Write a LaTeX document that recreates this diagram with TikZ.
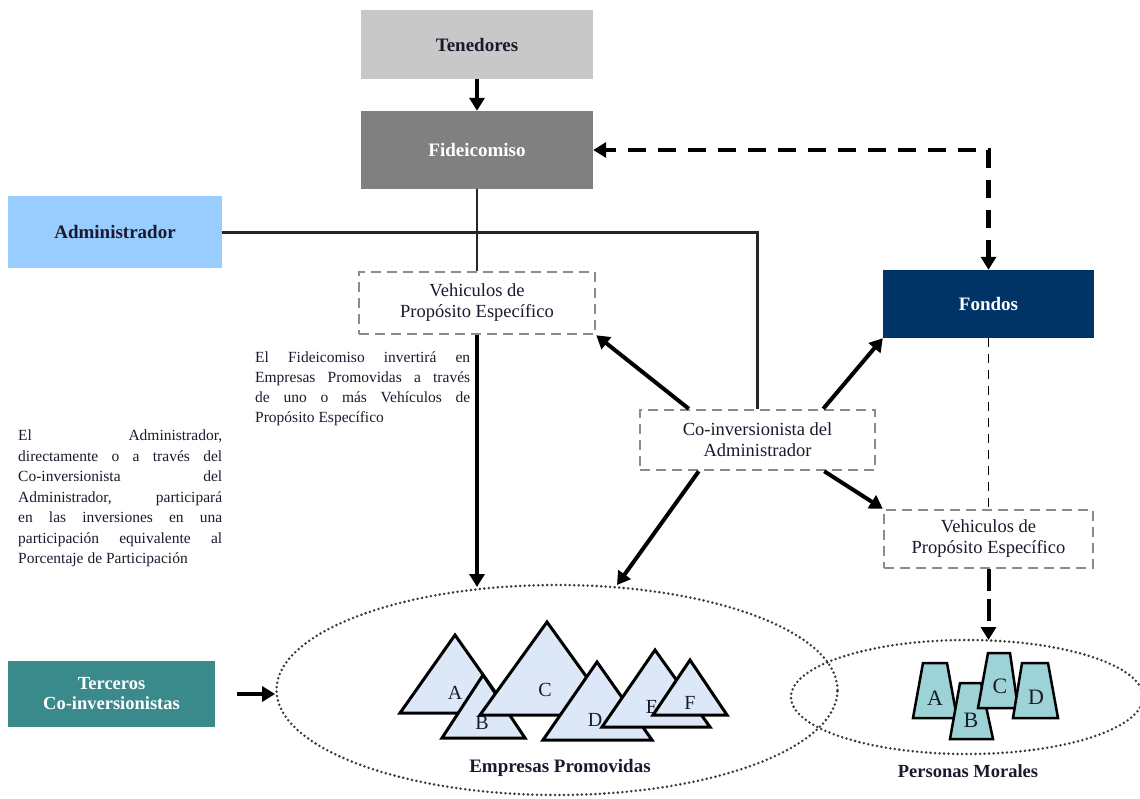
\documentclass[tikz,border=0pt]{standalone}
\usepackage{fontspec}
\setmainfont{Liberation Serif}
\usetikzlibrary{arrows.meta,calc,shapes.geometric}
\definecolor{tenc}{HTML}{C8C8C8}
\definecolor{fidc}{HTML}{808080}
\definecolor{admc}{HTML}{99CCFF}
\definecolor{fonc}{HTML}{003366}
\definecolor{terc}{HTML}{3A8A8C}
\definecolor{tric}{HTML}{DCE8F8}
\definecolor{trac}{HTML}{9DD3D6}
\definecolor{dashc}{HTML}{8C8C8C}
\definecolor{dotc}{HTML}{3A3A3A}
\definecolor{txtc}{HTML}{1A1A2E}
\tikzset{
  solidbox/.style={draw=none, inner sep=0pt, align=center, font=\fontsize{19}{22}\selectfont\bfseries},
  dbox/.style={draw=dashc, line width=2.5pt, dash pattern=on 10pt off 6pt, fill=white, inner sep=0pt, align=center, text=txtc, font=\fontsize{18.5}{21}\selectfont},
  bigarrow/.style={line width=4pt, -{Triangle[length=13pt,width=15pt]}},
  thinline/.style={line width=2.2pt, draw=black!85},
  dotell/.style={ellipse, draw=dotc, line width=2.8pt, dash pattern=on 0pt off 4.5pt, line cap=round, inner sep=0pt},
  tri/.style={fill=tric, draw=black, line width=3pt, line join=miter},
  trap/.style={fill=trac, draw=black, line width=2.5pt, line join=miter},
  lbl/.style={font=\fontsize{20}{22}\selectfont, text=txtc, inner sep=0pt},
  qlbl/.style={font=\fontsize{22}{24}\selectfont, text=txtc, inner sep=0pt},
  para/.style={align=left, inner sep=0pt, text=txtc},
}
\begin{document}
\begin{tikzpicture}[x=1pt,y=-1pt]
\useasboundingbox (0,0) rectangle (1140,798);

% ellipses first
\node[dotell, minimum width=561pt, minimum height=210pt] (emp) at (557,690) {};
\node[dotell, minimum width=352pt, minimum height=114pt] (pm) at (967,697) {};

% boxes
\node[solidbox, fill=tenc, text=txtc, minimum width=232pt, minimum height=69pt] (ten) at (477,44.5) {Tenedores};
\node[solidbox, fill=fidc, text=white, minimum width=232pt, minimum height=78pt] (fid) at (477,150) {Fideicomiso};
\node[solidbox, fill=admc, text=txtc, minimum width=214pt, minimum height=72pt] (adm) at (115,232) {Administrador};
\node[solidbox, fill=fonc, text=white, minimum width=211pt, minimum height=68pt] (fon) at (988.5,304) {Fondos};
\node[solidbox, fill=terc, text=white, minimum width=207pt, minimum height=66pt, font=\fontsize{18.5}{20}\selectfont\bfseries] (ter) at (111.5,694) {Terceros\\Co-inversionistas};

\node[dbox, minimum width=236pt, minimum height=62pt] (vpe1) at (477,303) {Vehiculos de\\Propósito Específico};
\node[dbox, minimum width=235pt, minimum height=60pt] (coi) at (757.5,440) {Co-inversionista del\\Administrador};
\node[dbox, minimum width=209pt, minimum height=58pt] (vpe2) at (988.5,539) {Vehiculos de\\Propósito Específico};

% paragraphs
\node[para, anchor=north west, font=\fontsize{15.5}{19.7}\selectfont] (p1) at (255,352) {%
\makebox[215pt][s]{El Fideicomiso invertirá en}\\
\makebox[215pt][s]{Empresas Promovidas a través}\\
\makebox[215pt][s]{de uno o más Vehículos de}\\
Propósito Específico};
\node[para, anchor=north west, font=\fontsize{15.5}{20.5}\selectfont] (p2) at (18,430) {%
\makebox[204pt][s]{El Administrador,}\\
\makebox[204pt][s]{directamente o a través del}\\
\makebox[204pt][s]{Co-inversionista del}\\
\makebox[204pt][s]{Administrador, participará}\\
\makebox[204pt][s]{en las inversiones en una}\\
\makebox[204pt][s]{participación equivalente al}\\
Porcentaje de Participación};

% coordinates on ellipses
\coordinate (empA) at (477,587);
\coordinate (empB) at (617,585);
\coordinate (pmA) at (988.5,640);

% connectors
\draw[bigarrow] (ten.south) -- (fid.north);
\draw[thinline] (fid.south) -- (vpe1.north);
\draw[thinline, line width=3pt] (adm.east) -| (coi.north);
\draw[bigarrow] (vpe1.south) -- (empA);
\draw[line width=4.5pt, dash pattern=on 18pt off 12pt, {Triangle[length=13pt,width=15pt]}-{Triangle[length=13pt,width=15pt]}] (fon.north) |- (fid.east);
\draw[line width=1.8pt, dash pattern=on 9pt off 7pt] (fon.south) -- (vpe2.north);
\draw[bigarrow, dash pattern=on 22pt off 8pt] (vpe2.south) -- (pmA);
\draw[bigarrow] ($(coi.north west)+(50,0)$) -- (vpe1.south east);
\draw[bigarrow] ($(coi.north east)+(-53,0)$) -- (fon.south west);
\draw[bigarrow] ($(coi.south west)+(60,0)$) -- (empB);
\draw[bigarrow] ($(coi.south east)+(-52,0)$) -- (vpe2.north west);
\draw[bigarrow] ($(ter.east)+(22,0)$) -- (emp.west |- ter.east);

% triangles
\filldraw[tri] (400,713) -- (455,635) -- (510,713) -- cycle;
\node[lbl] (ta) at (455,693) {A};
\filldraw[tri] (442,738) -- (483,675) -- (525,738) -- cycle;
\node[lbl] (tb) at (482,723) {B};
\filldraw[tri] (480,715) -- (547,622) -- (614,715) -- cycle;
\node[lbl] (tc) at (545,690) {C};
\filldraw[tri] (543,740) -- (597,662) -- (652,740) -- cycle;
\node[lbl] (td) at (595,720) {D};
\filldraw[tri] (602,727) -- (655,650) -- (710,727) -- cycle;
\node[lbl] (te) at (652,707) {E};
\filldraw[tri] (653,715) -- (690,660) -- (727,715) -- cycle;
\node[lbl] (tf) at (690,703) {F};
\node[font=\fontsize{19}{22}\selectfont\bfseries, text=txtc] (empl) at (560,768) {Empresas Promovidas};

% trapezoids
\filldraw[trap] (913,718) -- (923,663) -- (947,663) -- (957,718) -- cycle;
\node[qlbl] (qa) at (935,698) {A};
\filldraw[trap] (950,739) -- (960,683) -- (981,683) -- (993,739) -- cycle;
\node[qlbl] (qb) at (971,720) {B};
\filldraw[trap] (978,708) -- (988,653) -- (1010,653) -- (1018,708) -- cycle;
\node[qlbl] (qc) at (1000,686) {C};
\filldraw[trap] (1013,718) -- (1022,663) -- (1048,663) -- (1058,718) -- cycle;
\node[qlbl] (qd) at (1036,697) {D};
\node[font=\fontsize{18.5}{22}\selectfont\bfseries, text=txtc] (pml) at (968,771) {Personas Morales};
\end{tikzpicture}
\end{document}
